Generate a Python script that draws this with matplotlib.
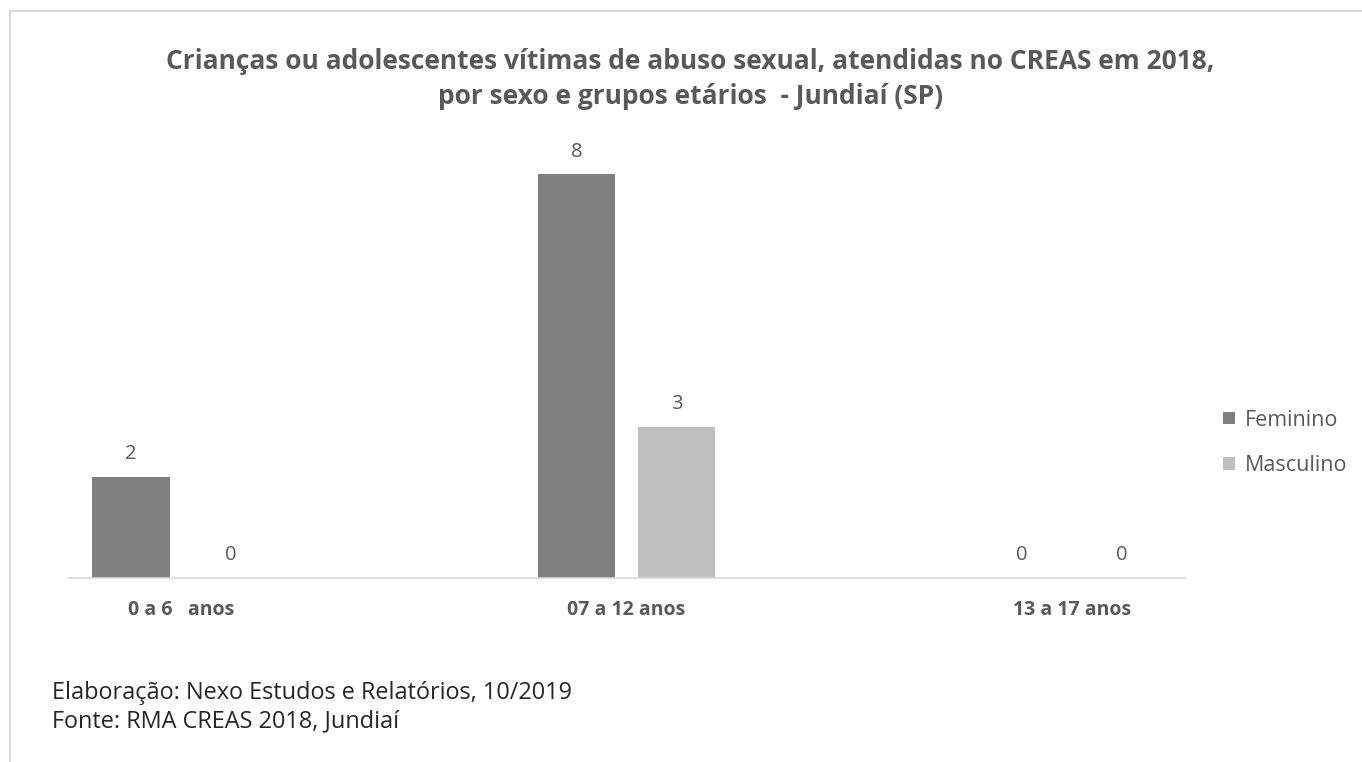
import numpy as np
import matplotlib
matplotlib.use("Agg")
import matplotlib.pyplot as plt
from matplotlib.lines import Line2D
from matplotlib.patches import Patch

plt.rcParams['font.family'] = ['Open Sans', 'DejaVu Sans']

# Dados: vítimas por grupo etário e sexo
grupos = ["0 a 6   anos", "07 a 12 anos", "13 a 17 anos"]
feminino = [2, 8, 0]
masculino = [0, 3, 0]
series = ["Feminino", "Masculino"]
cores = ["#7f7f7f", "#bfbfbf"]

titulo = ("Crianças ou adolescentes vítimas de abuso sexual, atendidas no CREAS em 2018,\n"
          "por sexo e grupos etários  - Jundiaí (SP)")
rodape = ["Elaboração: Nexo Estudos e Relatórios, 10/2019",
          "Fonte: RMA CREAS 2018, Jundiaí"]

W, H = 1362, 762
fig = plt.figure(figsize=(W / 100, H / 100), dpi=100)
fig.patch.set_facecolor("white")

# área do gráfico em pixels
x0, x1 = 68, 1185
y_base, y_top = 578, 124
ax = fig.add_axes([x0 / W, 1 - y_base / H, (x1 - x0) / W, (y_base - y_top) / H])

x = np.arange(len(grupos))
larg = 0.175
desl = 0.1122
for vals, cor, nome, s in zip([feminino, masculino], cores, series, [-1, 1]):
    barras = ax.bar(x + s * desl, vals, width=larg, color=cor, label=nome)
    for b, v in zip(barras, vals):
        ax.annotate(str(v), (b.get_x() + b.get_width() / 2, v), xytext=(0, 16.3),
                    textcoords="offset points", ha="center", va="center",
                    fontsize=14.5, color="#595959")

ax.set_xlim(-0.2536, 2.2536)
ax.set_ylim(0, 9)
ax.set_xticks(x)
ax.set_xticklabels(grupos, fontsize=14, fontweight="bold", color="#595959")
ax.tick_params(axis="x", length=0, pad=16)
ax.set_yticks([])
for lado in ["top", "right", "left"]:
    ax.spines[lado].set_visible(False)
ax.spines["bottom"].set_color("#d9d9d9")
ax.spines["bottom"].set_linewidth(1.2)

# legenda à direita
handles = [Patch(facecolor=c, edgecolor="none") for c in cores]
fig.legend(handles, series, loc="center left", bbox_to_anchor=(1204 / W, 1 - 443 / H),
           frameon=False, fontsize=15.5, labelcolor="#595959",
           handlelength=0.55, handleheight=0.55, handletextpad=0.45, labelspacing=1.15)

fig.text(690 / W, 1 - 79 / H, titulo, ha="center", va="center", fontsize=19,
         fontweight="bold", color="#595959", linespacing=1.4)

fig.text(52 / W, 1 - 693 / H, rodape[0], ha="left", va="center", fontsize=16.9, color="#262626")
fig.text(52 / W, 1 - 721 / H, rodape[1], ha="left", va="center", fontsize=16.9, color="#262626")

# moldura cinza (topo e esquerda)
fig.add_artist(Line2D([10 / W, 1], [1 - 11 / H, 1 - 11 / H], color="#d9d9d9", lw=1.5))
fig.add_artist(Line2D([10 / W, 10 / W], [0, 1 - 11 / H], color="#d9d9d9", lw=1.5))

fig.savefig("out.png", dpi=100)
